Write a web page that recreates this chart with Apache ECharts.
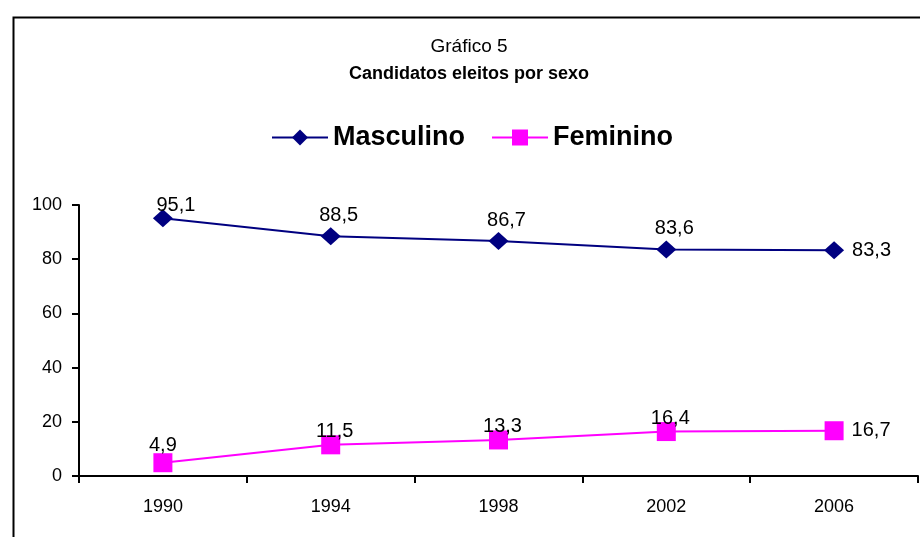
<!DOCTYPE html>
<html>
<head>
<meta charset="utf-8">
<script src="https://cdn.jsdelivr.net/npm/echarts@6/dist/echarts.min.js"></script>
<style>
    html, body { margin: 0; padding: 0; background: #fff; }
    #main { width: 920px; height: 537px; }
</style>
</head>
<body>
<div id="main"></div>
<script>
var anos = ['1990', '1994', '1998', '2002', '2006'];
var masculino = [95.1, 88.5, 86.7, 83.6, 83.3];
var feminino = [4.9, 11.5, 13.3, 16.4, 16.7];
var yTicks = [0, 20, 40, 60, 80, 100];

var fonte = 'Liberation Sans, Arial, sans-serif';

// último ponto com rótulo à direita
function serieData(values, firstOffset) {
    return values.map(function (v, i) {
        var item = {value: v};
        if (i === values.length - 1) {
            item.label = {position: 'right', distance: 8, offset: [0, 0]};
        } else if (i === 0 && firstOffset) {
            item.label = {offset: firstOffset};
        }
        return item;
    });
}

function virgula(p) {
    return String(p.value).replace('.', ',');
}

var myChart = echarts.init(document.getElementById('main'));
var option = {
    animation: false,
    backgroundColor: '#fff',
    title: {
        text: 'Gráfico 5',
        subtext: 'Candidatos eleitos por sexo',
        left: 464,
        textAlign: 'center',
        top: 32,
        itemGap: 9,
        textStyle: {
            fontFamily: fonte,
            fontSize: 19,
            fontWeight: 'normal',
            color: '#000'
        },
        subtextStyle: {
            fontFamily: fonte,
            fontSize: 18,
            fontWeight: 'bold',
            color: '#000'
        }
    },
    legend: {
        top: 119,
        left: 266,
        itemWidth: 56,
        itemHeight: 20,
        itemGap: 26,
        data: ['Masculino', 'Feminino'],
        textStyle: {
            fontFamily: fonte,
            fontSize: 27,
            fontWeight: 'bold',
            color: '#000'
        }
    },
    grid: {
        left: 79,
        right: 2,
        top: 205,
        bottom: 61,
        containLabel: false
    },
    xAxis: {
        type: 'category',
        data: anos,
        boundaryGap: true,
        axisLine: {lineStyle: {color: '#000', width: 2}},
        axisTick: {show: true, length: 7, lineStyle: {color: '#000', width: 2}},
        axisLabel: {
            margin: 22,
            fontFamily: fonte,
            fontSize: 18,
            color: '#000'
        },
        splitLine: {show: false}
    },
    yAxis: {
        type: 'value',
        min: 0,
        max: 100,
        interval: 20,
        axisLine: {show: true, lineStyle: {color: '#000', width: 2}},
        axisTick: {show: true, length: 7, lineStyle: {color: '#000', width: 2}},
        axisLabel: {
            margin: 17,
            fontFamily: fonte,
            fontSize: 18,
            color: '#000',
            formatter: function (v) { return yTicks.indexOf(v) >= 0 ? String(v) : ''; }
        },
        splitLine: {show: false}
    },
    series: [
        {
            name: 'Masculino',
            type: 'line',
            symbol: 'diamond',
            symbolSize: [20, 18],
            lineStyle: {color: '#000080', width: 2},
            itemStyle: {color: '#000080'},
            label: {
                show: true,
                position: 'top',
                distance: 2,
                offset: [8, 0],
                fontFamily: fonte,
                fontSize: 20,
                color: '#000',
                formatter: virgula
            },
            data: serieData(masculino, [13, 8])
        },
        {
            name: 'Feminino',
            type: 'line',
            symbol: 'rect',
            symbolSize: 19,
            lineStyle: {color: '#ff00ff', width: 2},
            itemStyle: {color: '#ff00ff'},
            label: {
                show: true,
                position: 'top',
                distance: -6,
                offset: [4, 0],
                fontFamily: fonte,
                fontSize: 20,
                color: '#000',
                formatter: virgula
            },
            data: serieData(feminino, [0, -4])
        }
    ],
    graphic: [{
        type: 'rect',
        left: 11,
        top: 15,
        shape: {width: 930, height: 540},
        style: {fill: 'none', stroke: '#000', lineWidth: 2},
        silent: true
    }]
};

myChart.setOption(option);
</script>
</body>
</html>
